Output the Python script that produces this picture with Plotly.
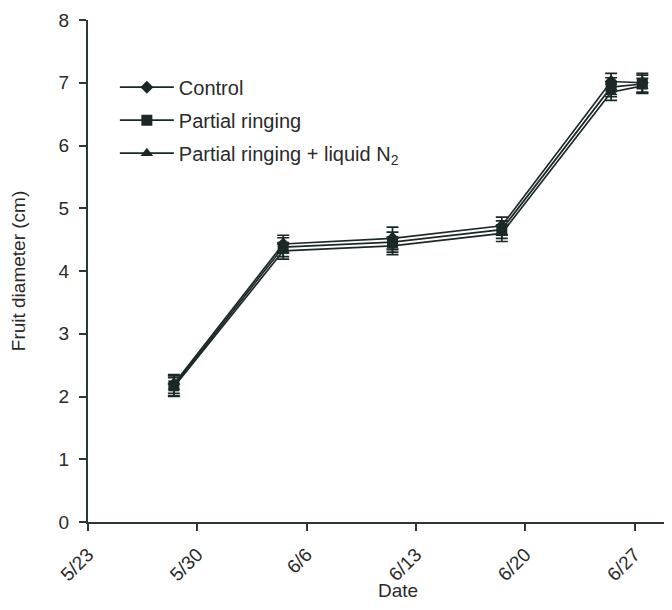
import plotly.graph_objects as go

# x position of each sampling, in days after 5/23
day_offsets = [5.5, 12.5, 19.5, 26.5, 33.5, 35.5]
tick_days = [0, 7, 14, 21, 28, 35]
tick_labels = ["5/23", "5/30", "6/6", "6/13", "6/20", "6/27"]

series_names = ["Control", "Partial ringing", "Partial ringing + liquid N<sub>2</sub>"]
control = [2.20, 4.43, 4.52, 4.72, 7.02, 7.00]
partial = [2.17, 4.38, 4.46, 4.66, 6.93, 6.98]
partial_n2 = [2.15, 4.32, 4.40, 4.60, 6.85, 6.95]
control_err = [0.15, 0.14, 0.18, 0.14, 0.13, 0.15]
partial_err = [0.16, 0.15, 0.16, 0.14, 0.15, 0.14]
partial_n2_err = [0.15, 0.13, 0.14, 0.13, 0.13, 0.12]

dark = "#1c2828"
axis_col = "#2b3838"
symbols = ["diamond", "square", "triangle-up"]
sizes = [10, 11, 11]

fig = go.Figure()
for name, vals, errs, sym, sz in zip(series_names,
                                     [control, partial, partial_n2],
                                     [control_err, partial_err, partial_n2_err],
                                     symbols, sizes):
    fig.add_trace(go.Scatter(
        x=day_offsets, y=vals, name=name, legendgroup=name,
        mode="lines+markers",
        line=dict(color=dark, width=1.7),
        marker=dict(symbol=sym, size=sz, color=dark),
        error_y=dict(type="data", array=errs, color=dark, thickness=1.7, width=6),
    ))

# the page adds an 8px body margin, so margins are shifted by 8px
fig.update_layout(
    width=672, height=610,
    margin=dict(l=80, r=8, t=12, b=96),
    plot_bgcolor="white", paper_bgcolor="white",
    font=dict(family="Liberation Sans, Arial, sans-serif", size=19, color="#2a2a2a"),
    showlegend=True,
    legend=dict(x=0.046, y=0.905, xanchor="left", yanchor="top",
                bgcolor="rgba(0,0,0,0)", tracegroupgap=4, itemwidth=54,
                font=dict(size=20)),
)
fig.update_xaxes(
    range=[0, 37.4], tickmode="array", tickvals=tick_days, ticktext=tick_labels,
    tickangle=-45, tickfont=dict(size=19), automargin=False, ticklabelstandoff=5,
    showline=True, linecolor=axis_col, linewidth=2,
    ticks="outside", ticklen=7, tickwidth=2, tickcolor=axis_col,
    showgrid=False, zeroline=False,
)
fig.update_yaxes(
    range=[0, 8], dtick=1, tickfont=dict(size=19), automargin=False, ticklabelstandoff=6,
    showline=True, linecolor=axis_col, linewidth=2,
    ticks="outside", ticklen=7, tickwidth=2, tickcolor=axis_col,
    showgrid=False, zeroline=False,
    title=dict(text="Fruit diameter (cm)", font=dict(size=19), standoff=28),
)
# x-axis title, placed below the rotated tick labels
fig.add_annotation(text="Date", xref="paper", yref="paper", x=0.53, y=-0.137,
                   xanchor="center", yanchor="middle", showarrow=False,
                   font=dict(size=19))

fig.write_html("out.html")
